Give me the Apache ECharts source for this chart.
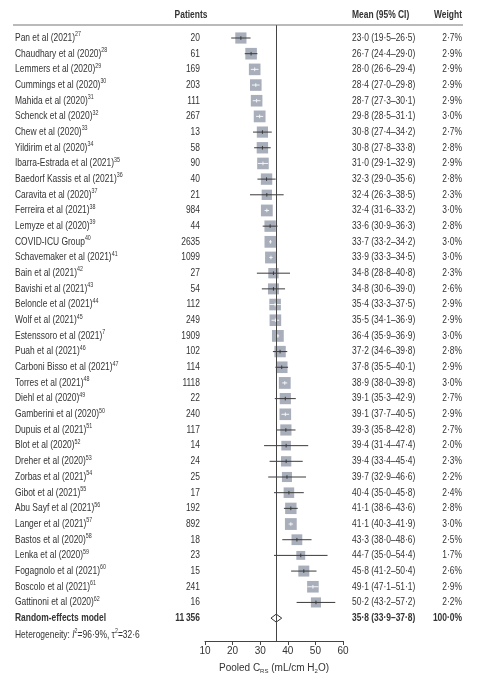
<!DOCTYPE html>
<html><head><meta charset="utf-8">
<script src="https://cdn.jsdelivr.net/npm/echarts@6.0.0/dist/echarts.min.js"></script>
<style>html,body{margin:0;padding:0;background:#fff}#c{width:500px;height:680px}</style>
</head><body><div id="c"></div>
<script>
const studies = ['Pan et al (2021)','Chaudhary et al (2020)','Lemmers et al (2020)','Cummings et al (2020)','Mahida et al (2020)','Schenck et al (2020)','Chew et al (2020)','Yildirim et al (2020)','Ibarra-Estrada et al (2021)','Baedorf Kassis et al (2021)','Caravita et al (2020)','Ferreira et al (2021)','Lemyze et al (2020)','COVID-ICU Group','Schavemaker et al (2021)','Bain et al (2021)','Bavishi et al (2021)','Beloncle et al (2021)','Wolf et al (2021)','Estenssoro et al (2021)','Puah et al (2021)','Carboni Bisso et al (2021)','Torres et al (2021)','Diehl et al (2020)','Gamberini et al (2020)','Dupuis et al (2021)','Blot et al (2020)','Dreher et al (2020)','Zorbas et al (2021)','Gibot et al (2021)','Abu Sayf et al (2021)','Langer et al (2021)','Bastos et al (2020)','Lenka et al (2020)','Fogagnolo et al (2021)','Boscolo et al (2021)','Gattinoni et al (2020)'];
const refs = ['27','28','29','30','31','32','33','34','35','36','37','38','39','40','41','42','43','44','45','7','46','47','48','49','50','51','52','53','54','55','56','57','58','59','60','61','62'];
const patients = [20,61,169,203,111,267,13,58,90,40,21,984,44,2635,1099,27,54,112,249,1909,102,114,1118,22,240,117,14,24,25,17,192,892,18,23,15,241,16];
const means  = [23.0,26.7,28.0,28.4,28.7,29.8,30.8,30.8,31.0,32.3,32.4,32.4,33.6,33.7,33.9,34.8,34.8,35.4,35.5,36.4,37.2,37.8,38.9,39.1,39.1,39.3,39.4,39.4,39.7,40.4,41.1,41.1,43.3,44.7,45.8,49.1,50.2];
const lowers = [19.5,24.4,26.6,27.0,27.3,28.5,27.4,27.8,29.1,29.0,26.3,31.6,30.9,33.2,33.3,28.8,30.6,33.3,34.1,35.9,34.6,35.5,38.0,35.3,37.7,35.8,31.4,33.4,32.9,35.0,38.6,40.3,38.0,35.0,41.2,47.1,43.2];
const uppers = [26.5,29.0,29.4,29.8,30.1,31.1,34.2,33.8,32.9,35.6,38.5,33.2,36.3,34.2,34.5,40.8,39.0,37.5,36.9,36.9,39.8,40.1,39.8,42.9,40.5,42.8,47.4,45.4,46.6,45.8,43.6,41.9,48.6,54.4,50.4,51.1,57.2];
const weights = [2.7,2.9,2.9,2.9,2.9,3.0,2.7,2.8,2.9,2.8,2.3,3.0,2.8,3.0,3.0,2.3,2.6,2.9,2.9,3.0,2.8,2.9,3.0,2.7,2.9,2.7,2.0,2.3,2.2,2.4,2.8,3.0,2.5,1.7,2.6,2.9,2.2];
const pooledLabel = 'Random-effects model';
const pooledPatients = 11356;
const pooledMean = 35.8, pooledLower = 33.9, pooledUpper = 37.8, pooledWeight = 100.0;
const heterogeneityI2 = 96.9, heterogeneityTau2 = 32.6;
const xMin = 10, xMax = 60, xInterval = 10;
const headers = ['Patients', 'Mean (95% CI)', 'Weight'];

const FONT = '"Liberation Sans",Arial,sans-serif';
const TXT = '#333';
const SX = 0.82;
const FS = 10.3;
const fmt = v => v.toFixed(1).replace('.', '\u00b7');
const fmtN = n => n >= 10000 ? String(n).replace(/(\d)(?=(\d{3})$)/, '$1\u2009') : String(n);

const nRows = studies.length; // pooled row index = nRows
const studyData = means.map((m, i) => [i, m, lowers[i], uppers[i], weights[i]]);
const tableData = [];
for (let i = 0; i <= nRows; i++) tableData.push([pooledMean, i]);

const chart = echarts.init(document.getElementById('c'), null, {renderer: 'canvas'});

const richBase = {
  n: {fontSize: FS, fontFamily: FONT, fill: TXT},
  b: {fontSize: FS, fontFamily: FONT, fill: TXT, fontWeight: 'bold'},
  s: {fontSize: 6.5, fontFamily: FONT, fill: TXT, padding: [0, 0, 7, 0]}
};

chart.setOption({
  animation: false,
  grid: {left: 205, right: 157, top: 25, bottom: 39, containLabel: false},
  xAxis: {
    type: 'value', min: xMin, max: xMax, interval: xInterval,
    splitLine: {show: false},
    axisLine: {show: true, onZero: false, lineStyle: {color: '#444', width: 1}},
    axisTick: {show: true, length: 4, lineStyle: {color: '#444'}},
    axisLabel: {fontSize: 10, fontFamily: FONT, color: TXT, margin: 5},
    name: '{n|Pooled C}{sub|RS}{n| (mL/cm H}{sub|2}{n|O)}',
    nameLocation: 'middle', nameGap: 21,
    nameTextStyle: {
      rich: {
        n: {fontSize: 10, fontFamily: FONT, color: TXT},
        sub: {fontSize: 6, fontFamily: FONT, color: TXT, padding: [6, 0, 0, 0]}
      }
    }
  },
  yAxis: {type: 'value', inverse: true, min: -0.83, max: 38.46, show: false},
  series: [
    {
      type: 'line', data: [], silent: true,
      markLine: {
        symbol: 'none', silent: true, label: {show: false},
        lineStyle: {color: '#444', width: 1, type: 'solid'},
        data: [{xAxis: pooledMean}]
      },
      z: 1
    },
    {
      type: 'custom', z: 3, clip: false,
      data: studyData,
      renderItem: (params, api) => {
        const i = api.value(0), m = api.value(1), lo = api.value(2), hi = api.value(3), w = api.value(4);
        const c = api.coord([m, i]);
        const pl = api.coord([lo, i]), ph = api.coord([hi, i]);
        const side = 11.8 * Math.sqrt(w / 3);
        const inside = (ph[0] - pl[0]) <= side;
        const lc = inside ? '#f4f5f8' : '#3a3a3a';
        return {type: 'group', children: [
          {type: 'rect', shape: {x: c[0] - side / 2, y: c[1] - side / 2, width: side, height: side}, style: {fill: '#a9aebb'}},
          {type: 'line', shape: {x1: pl[0], y1: c[1], x2: ph[0], y2: c[1]}, style: {stroke: lc, lineWidth: 1}},
          {type: 'line', shape: {x1: c[0], y1: c[1] - 1.8, x2: c[0], y2: c[1] + 1.8}, style: {stroke: lc, lineWidth: 1}}
        ]};
      }
    },
    {
      type: 'custom', z: 4, clip: false,
      data: [[pooledMean, pooledLower, pooledUpper, nRows]],
      renderItem: (params, api) => {
        const m = api.value(0), lo = api.value(1), hi = api.value(2), i = api.value(3);
        const c = api.coord([m, i]), pl = api.coord([lo, i]), ph = api.coord([hi, i]);
        const h = 4;
        return {type: 'polygon', shape: {points: [[pl[0], c[1]], [c[0], c[1] - h], [ph[0], c[1]], [c[0], c[1] + h]]},
          style: {fill: '#fff', stroke: '#333', lineWidth: 1}};
      }
    },
    {
      type: 'custom', z: 5, clip: false, silent: true,
      data: tableData,
      renderItem: (params, api) => {
        const i = api.value(1);
        const y = api.coord([pooledMean, i])[1];
        const pooled = i === nRows;
        let name, pat, ci, wt;
        if (pooled) {
          name = '{b|' + pooledLabel + '}';
          pat = '{b|' + fmtN(pooledPatients) + '}';
          ci = '{b|' + fmt(pooledMean) + ' (' + fmt(pooledLower) + '\u2013' + fmt(pooledUpper) + ')}';
          wt = '{b|' + fmt(pooledWeight) + '%}';
        } else {
          name = '{n|' + studies[i] + '}{s|' + refs[i] + '}';
          pat = '{n|' + fmtN(patients[i]) + '}';
          ci = '{n|' + fmt(means[i]) + ' (' + fmt(lowers[i]) + '\u2013' + fmt(uppers[i]) + ')}';
          wt = '{n|' + fmt(weights[i]) + '%}';
        }
        const mk = (x, text, align) => ({type: 'text', x: x, y: y, scaleX: SX, scaleY: 1,
          style: {x: 0, y: 0, text: text, rich: richBase, align: align, verticalAlign: 'middle', fontSize: FS, fontFamily: FONT, fill: TXT}});
        return {type: 'group', children: [
          mk(15, name, 'left'), mk(200, pat, 'right'), mk(352, ci, 'left'), mk(462, wt, 'right')
        ]};
      }
    }
  ],
  graphic: [
    {type: 'line', shape: {x1: 13, y1: 25, x2: 463, y2: 25}, style: {stroke: '#777', lineWidth: 1.2}, z: 10},
    {type: 'text', x: 191, y: 15, scaleX: SX, style: {x: 0, y: 0, text: headers[0], align: 'center', verticalAlign: 'middle', fontSize: FS, fontWeight: 'bold', fontFamily: FONT, fill: TXT}},
    {type: 'text', x: 352, y: 15, scaleX: SX, style: {x: 0, y: 0, text: headers[1], align: 'left', verticalAlign: 'middle', fontSize: FS, fontWeight: 'bold', fontFamily: FONT, fill: TXT}},
    {type: 'text', x: 462, y: 15, scaleX: SX, style: {x: 0, y: 0, text: headers[2], align: 'right', verticalAlign: 'middle', fontSize: FS, fontWeight: 'bold', fontFamily: FONT, fill: TXT}},
    {type: 'text', x: 15, y: 635, scaleX: SX, style: {
      x: 0, y: 0,
      text: '{n|Heterogeneity: }{i|I}{s|2}{n|=' + fmt(heterogeneityI2) + '%, \u03c4}{s|2}{n|=' + fmt(heterogeneityTau2) + '}',
      rich: Object.assign({}, richBase, {i: {fontSize: FS, fontFamily: FONT, fill: TXT, fontStyle: 'italic'}}),
      align: 'left', verticalAlign: 'middle', fontSize: FS, fontFamily: FONT, fill: TXT}}
  ]
});
</script></body></html>
